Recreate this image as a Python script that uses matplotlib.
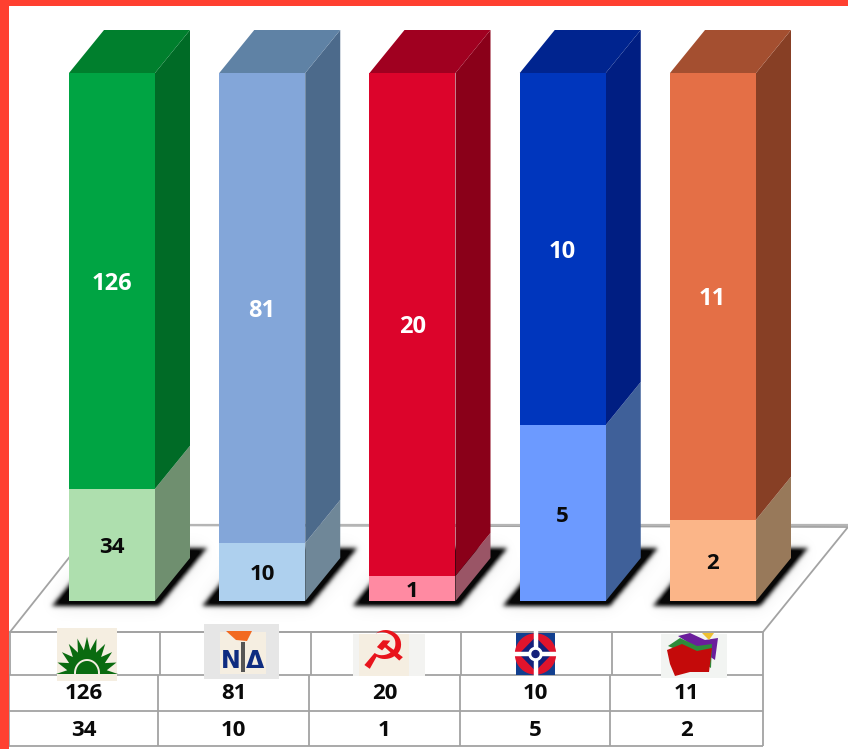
import numpy as np
import matplotlib
matplotlib.use("Agg")
import matplotlib.pyplot as plt
from matplotlib.patches import Polygon, Rectangle
from matplotlib.path import Path

plt.rcParams['font.family'] = ['Open Sans', 'DejaVu Sans']

categories = ["PASOK", "ND", "KKE", "LAOS", "SYRIZA"]
seats_upper = [126, 81, 20, 10, 11]
seats_lower = [34, 10, 1, 5, 2]

front_upper = ["#00A443", "#83A6D9", "#DC042B", "#0036BD", "#E46F46"]
side_upper = ["#006B26", "#4C6A8B", "#8A0019", "#001E82", "#873F25"]
top_upper = ["#007F2D", "#5F82A5", "#A00020", "#00248F", "#A44F30"]
front_lower = ["#AEDFAE", "#AED0EE", "#FF8AA2", "#6C9AFF", "#FBB588"]
side_lower = ["#6F8F6F", "#6F8798", "#9A5566", "#3F6099", "#98795A"]
label_upper_color = "white"
label_lower_color = "#0A0A0A"

W, H = 848, 749
fig = plt.figure(figsize=(W / 100, H / 100), dpi=100, facecolor="white")

px = fig.add_axes([0, 0, 1, 1], zorder=1)
px.axis("off")

px.add_patch(Rectangle((0, 0), 848, 6, fc="#FF4030", ec="none", zorder=10))
px.add_patch(Rectangle((0, 0), 9, 749, fc="#FF4030", ec="none", zorder=10))

GRID = "#A3A3A3"
px.add_patch(Polygon([(10, 632), (763, 632), (848, 527), (95, 525)], closed=True,
                     fc="white", ec=GRID, lw=1.3, zorder=1))
px.plot([95, 848], [525, 525], color="#B5B5B5", lw=1.6, zorder=1.1)


def gaussian(img, sigma):
    r = int(3 * sigma)
    k = np.exp(-0.5 * (np.arange(-r, r + 1) / sigma) ** 2)
    k /= k.sum()
    out = np.apply_along_axis(lambda v: np.convolve(v, k, mode="same"), 0, img)
    return np.apply_along_axis(lambda v: np.convolve(v, k, mode="same"), 1, out)


# Floor shadows (blurred parallelograms beneath each column)
y0s, y1s = 520, 640
gx, gy = np.meshgrid(np.arange(W) + .5, np.arange(y0s, y1s) + .5)
pts = np.column_stack([gx.ravel(), gy.ravel()])
mask = np.zeros(gx.shape)
bar_px_left = [69 + 150.25 * i for i in range(5)]
for left in bar_px_left:
    poly = [(left - 17, 606), (left + 90, 606), (left + 138, 548), (left + 30, 548)]
    mask += Path(poly).contains_points(pts).reshape(gx.shape)
core = gaussian(mask, 2.2)
halo = gaussian(mask, 9)
alpha = np.clip(core * 1.05 + halo * 0.10, 0, 1)
rgba = np.zeros(gx.shape + (4,))
rgba[..., :3] = 0.03
rgba[..., 3] = alpha
px.imshow(rgba, extent=(0, W, y1s, y0s), aspect="auto", zorder=1.5, interpolation="bilinear")
px.set_xlim(0, W); px.set_ylim(H, 0)

# Table
rows_y = [632, 675, 711, 746]
upper_cols = [10, 160, 310.5, 461, 612, 762.5]
lower_cols = [9, 158, 309, 460, 610, 762.5]
for y in rows_y:
    px.plot([9, 763], [y, y], color=GRID, lw=1.3, zorder=2, solid_capstyle="butt")
for x in upper_cols:
    px.plot([x, x], [632, 675], color=GRID, lw=1.3, zorder=2, solid_capstyle="butt")
for x in lower_cols:
    px.plot([x, x], [675, 746], color=GRID, lw=1.3, zorder=2, solid_capstyle="butt")

for i in range(5):
    cx = (lower_cols[i] + lower_cols[i + 1]) / 2
    px.text(cx, 693.5, str(seats_upper[i]), ha="center", va="center",
            fontsize=16, fontweight="bold", color="#0A0A0A", zorder=3)
    px.text(cx, 730, str(seats_lower[i]), ha="center", va="center",
            fontsize=16, fontweight="bold", color="#0A0A0A", zorder=3)

# Logos
LZ = 4
px.add_patch(Rectangle((57, 628), 60, 53, fc="#F5EEE1", ec="none", zorder=LZ))
ang = np.linspace(np.pi, 0, 21)
rad = np.where(np.arange(21) % 2 == 0, 31, 20)
sx = 87 + rad * np.cos(ang)
sy = 674 - rad * np.sin(ang) * 1.2
px.add_patch(Polygon(np.column_stack([sx, sy]), closed=True, fc="#0A6B10", ec="none", zorder=LZ + .1))
theta = np.linspace(np.pi, 0, 30)
px.plot(87 + 12 * np.cos(theta), 673 - 13 * np.sin(theta), color="#F5EEE1", lw=1.4, zorder=LZ + .2)

px.add_patch(Rectangle((204, 624), 75, 55, fc="#E6E6E6", ec="none", zorder=LZ))
px.add_patch(Rectangle((220, 632), 46, 42, fc="#F5EEE1", ec="none", zorder=LZ + .05))
px.add_patch(Polygon([(226, 631), (252, 631), (247, 641), (236, 640)], closed=True,
                     fc="#F26A21", ec="none", zorder=LZ + .1))
px.text(231, 661, "Ν", ha="center", va="center", fontsize=17, fontweight="bold",
        color="#0F2C80", family="DejaVu Sans", zorder=LZ + .1)
px.text(255, 661, "Δ", ha="center", va="center", fontsize=17, fontweight="bold",
        color="#0F2C80", family="DejaVu Sans", zorder=LZ + .1)
px.add_patch(Rectangle((241, 642), 4, 30, fc="#555555", ec="none", zorder=LZ + .15))

px.add_patch(Rectangle((353, 634), 72, 42, fc="#F3F3F1", ec="none", zorder=LZ))
px.add_patch(Rectangle((359, 634), 50, 42, fc="#F5EEE1", ec="none", zorder=LZ + .05))
px.text(383, 653, "☭", ha="center", va="center", fontsize=38, color="#E8141C",
        family="DejaVu Sans", zorder=LZ + .1)

px.add_patch(Rectangle((516, 633), 39, 42, fc="#123F8F", ec="none", zorder=LZ))
th = np.linspace(0, 2 * np.pi, 60)
px.fill(535.5 + 20 * np.cos(th), 654 + 20 * np.sin(th), color="#E0142C", zorder=LZ + .1)
px.add_patch(Polygon([(535.5, 637), (552, 654), (535.5, 671), (519, 654)], closed=True,
                     fc="#14207A", ec="none", zorder=LZ + .15))
px.plot([516, 555], [654, 654], color="white", lw=3.2, zorder=LZ + .2)
px.plot([535.5, 535.5], [633, 675], color="white", lw=3.2, zorder=LZ + .2)
px.fill(535.5 + 6.5 * np.cos(th), 654 + 6.5 * np.sin(th), color="white", zorder=LZ + .25)
px.fill(535.5 + 3.5 * np.cos(th), 654 + 3.5 * np.sin(th), color="#14207A", zorder=LZ + .3)

px.add_patch(Rectangle((661, 634), 66, 44, fc="#F2F4F2", ec="none", zorder=LZ))
px.add_patch(Polygon([(678, 636), (690, 633), (705, 640), (718, 638), (715, 660), (700, 650)],
                     closed=True, fc="#6B1E9C", ec="none", zorder=LZ + .1))
px.add_patch(Polygon([(668, 646), (680, 638), (697, 646), (712, 644), (711, 668), (690, 655)],
                     closed=True, fc="#2E8B3A", ec="none", zorder=LZ + .15))
px.add_patch(Polygon([(667, 650), (682, 644), (697, 651), (712, 648), (709, 672),
                      (690, 672), (675, 676), (670, 664)],
                     closed=True, fc="#C40A0A", ec="none", zorder=LZ + .2))
px.add_patch(Polygon([(702, 633), (714, 633), (709, 640)], closed=True, fc="#EFC030", ec="none",
                     zorder=LZ + .1))

# Bars: x = category position, y = share of column total
ax = fig.add_axes([0, 0, 1, 1], zorder=2)
ax.patch.set_alpha(0)
ax.axis("off")
BAR_PX, STEP_PX, Y0_PX, FULL_PX = 86.0, 150.25, 601.0, 528.0
first_center_px = 69 + BAR_PX / 2
ax.set_xlim(-first_center_px / STEP_PX, (W - first_center_px) / STEP_PX)
ax.set_ylim(-(H - Y0_PX) / FULL_PX, Y0_PX / FULL_PX)

x = np.arange(len(categories))
totals = np.array(seats_upper, float) + np.array(seats_lower, float)
share_low = np.array(seats_lower) / totals
share_up = np.array(seats_upper) / totals
width = BAR_PX / STEP_PX
ddx, ddy = 35 / STEP_PX, 43 / FULL_PX

ax.bar(x, share_low, width=width, color=front_lower, linewidth=0, zorder=3)
ax.bar(x, share_up, width=width, bottom=share_low, color=front_upper, linewidth=0, zorder=3)

label_dy = -3 / FULL_PX
label_dx = -0.3 / STEP_PX
for i in range(len(x)):
    r = x[i] + width / 2
    l = x[i] - width / 2
    s = share_low[i]
    ax.add_patch(Polygon([(r, 0), (r + ddx, ddy), (r + ddx, s + ddy), (r, s)], closed=True,
                         fc=side_lower[i], ec="none", zorder=2))
    ax.add_patch(Polygon([(r, s), (r + ddx, s + ddy), (r + ddx, 1 + ddy), (r, 1)], closed=True,
                         fc=side_upper[i], ec="none", zorder=2))
    ax.add_patch(Polygon([(l, 1), (r, 1), (r + ddx, 1 + ddy), (l + ddx, 1 + ddy)], closed=True,
                         fc=top_upper[i], ec="none", zorder=2))
    ax.text(x[i] + label_dx, s + share_up[i] / 2 + label_dy, str(seats_upper[i]), ha="center", va="center",
            fontsize=17, fontweight="bold", color=label_upper_color, zorder=5)
    ax.text(x[i] + label_dx, s / 2 + label_dy, str(seats_lower[i]), ha="center", va="center",
            fontsize=16, fontweight="bold", color=label_lower_color, zorder=5)

fig.savefig("out.png", dpi=100, facecolor="white")
